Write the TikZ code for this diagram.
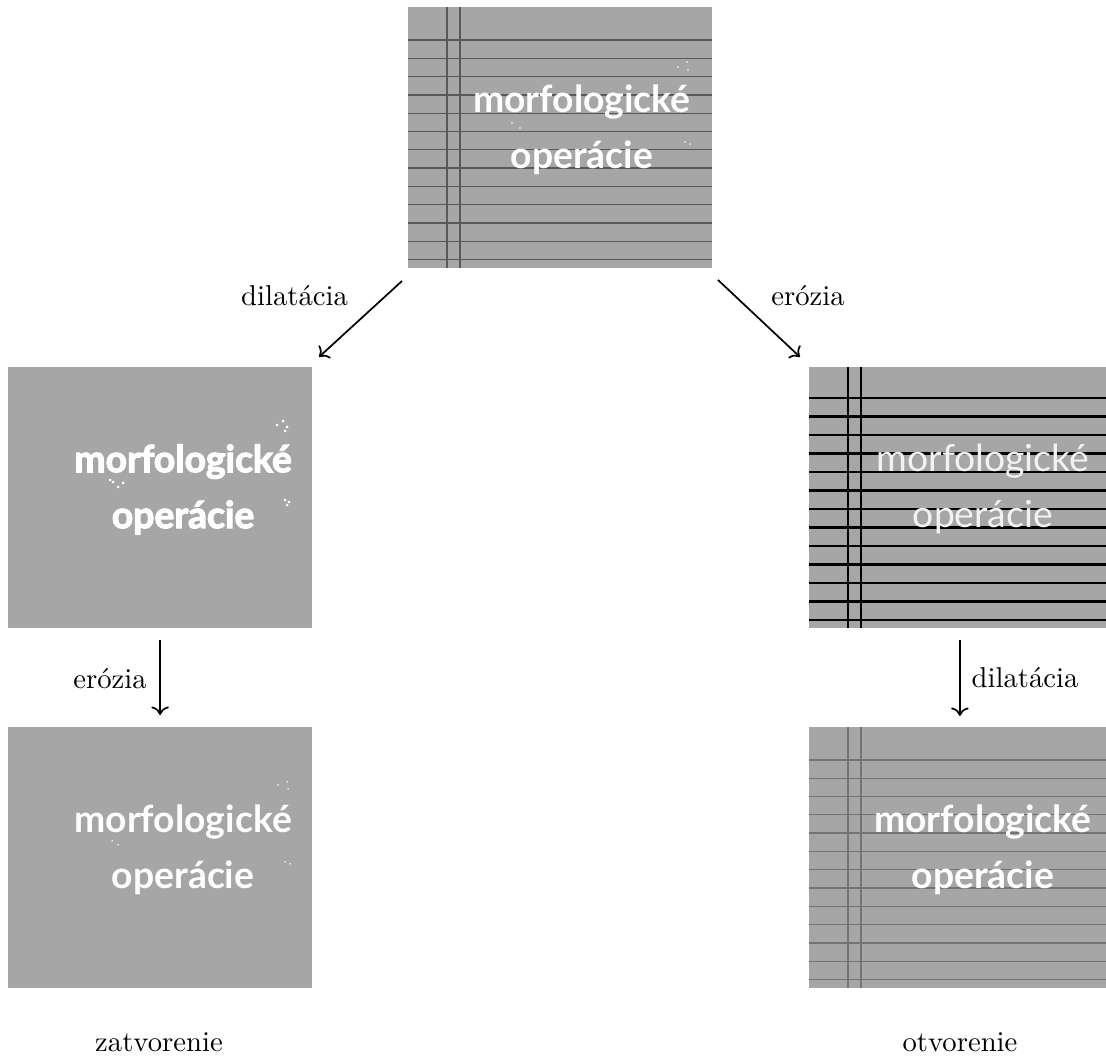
\documentclass[tikz,border=0pt]{standalone}
\usepackage{fontspec}
\newfontfamily\photofont{Lato}
\newfontfamily\heavyfont{Lato}[FakeBold=3]
\usetikzlibrary{arrows.meta, positioning, calc}
\definecolor{imggray}{RGB}{166,166,166}
\tikzstyle{photo} = [rectangle, fill=imggray, minimum width=3.724cm, minimum height=3.197cm, inner sep=0pt, outer sep=0pt]
\tikzstyle{inscription} = [text=white, align=center, inner sep=0pt]
\tikzstyle{boldtext} = [inscription, font=\photofont\bfseries\fontsize{13}{19.5}\selectfont]
\tikzstyle{heavytext} = [inscription, font=\heavyfont\bfseries\fontsize{13}{19.5}\selectfont]
\tikzstyle{thintext} = [inscription, text=white!95!black, font=\photofont\fontsize{13}{19.5}\selectfont]
\tikzstyle{thinrule} = [line width=0.45pt, black!65]
\tikzstyle{softrule} = [line width=0.45pt, black!55]
\tikzstyle{heavyrule} = [line width=0.9pt, black]
\tikzstyle{speck} = [fill=white]
\tikzstyle{flow} = [semithick, ->]
\tikzset{ruled/.style={path picture={
  \foreach \k in {0,...,12}
    \draw[#1] ($(path picture bounding box.north west)+(0,33+18.3*\k)$) -- ++(304,0);
  \foreach \v in {39,52}
    \draw[#1] ($(path picture bounding box.north west)+(\v,0)$) -- ++(0,261);
}}}

\begin{document}
\begin{tikzpicture}[x=0.012247cm, y=-0.012247cm]
	\clip (0,0) rectangle (1106,1057);

	% Images
	\node (top) [photo, ruled=thinrule] at (560,137.5) {};
	\node (dil) [photo, below left=1.213cm and 1.176cm of top] {};
	\node (ero) [photo, below right=1.213cm and 1.188cm of top] {};
	\node (clos) [photo, below=1.213cm of dil] {};
	\node (opn) [photo, ruled=softrule, below=1.213cm of ero] {};

	% Lines of the eroded image
	\foreach \k in {0,...,12}
		\draw[heavyrule] ($(ero.north west)+(0,31+18.5*\k)$) -- ++(304,0);
	\foreach \v in {39,52}
		\draw[heavyrule] ($(ero.north west)+(\v,0)$) -- ++(0,261);

	% Inscriptions
	\node (top_text) [boldtext] at ($(top)+(22,-8)$) {morfologické\\operácie};
	\node (dil_text) [heavytext] at ($(dil)+(23,-8)$) {morfologické\\operácie};
	\node (ero_text) [thintext] at ($(ero)+(22,-8)$) {morfologické\\operácie};
	\node (clos_text) [boldtext] at ($(clos)+(23,-8)$) {morfologické\\operácie};
	\node (opn_text) [boldtext] at ($(opn)+(22,-8)$) {morfologické\\operácie};

	% Specks
	\foreach \a/\b in {270/60, 279/55, 280/63, 112/121, 104/116, 277/135, 282/137}
		\fill[speck] ($(top.north west)+(\a,\b)$) circle (0.9);
	\foreach \a/\b in {269/58, 275/54, 279/60, 277/64, 105/115, 110/120, 115/116, 102/113, 277/133, 281/135, 279/138}
		\fill[speck] ($(dil.north west)+(\a,\b)$) circle (1.5);
	\foreach \a/\b in {270/58, 279/55, 280/62, 110/118, 104/114, 277/135, 282/137}
		\fill[speck] ($(clos.north west)+(\a,\b)$) circle (0.8);

	% Arrows
	\draw[flow] ($(top.south west)+(-6,13)$) -- ($(dil.north east)+(7,-10)$);
	\draw[flow] ($(top.south east)+(6,12)$) -- ($(ero.north west)+(-9,-10)$);
	\draw[flow] ($(dil.south)+(0,12)$) -- ($(clos.north)+(0,-12)$);
	\draw[flow] ($(ero.south)+(-1,12)$) -- ($(opn.north)+(-1,-11)$);

	% Labels
	\node (lbl_dil) [anchor=base] at (294.5,306) {dilatácia};
	\node (lbl_ero) [anchor=base] at (808,306) {erózia};
	\node (lbl_clos) [anchor=base] at (110,688) {erózia};
	\node (lbl_opn) [anchor=base] at (1025,687) {dilatácia};
	\node (name_clos) [anchor=base] at (159,1051) {zatvorenie};
	\node (name_opn) [anchor=base] at (960,1051) {otvorenie};

\end{tikzpicture}
\end{document}
